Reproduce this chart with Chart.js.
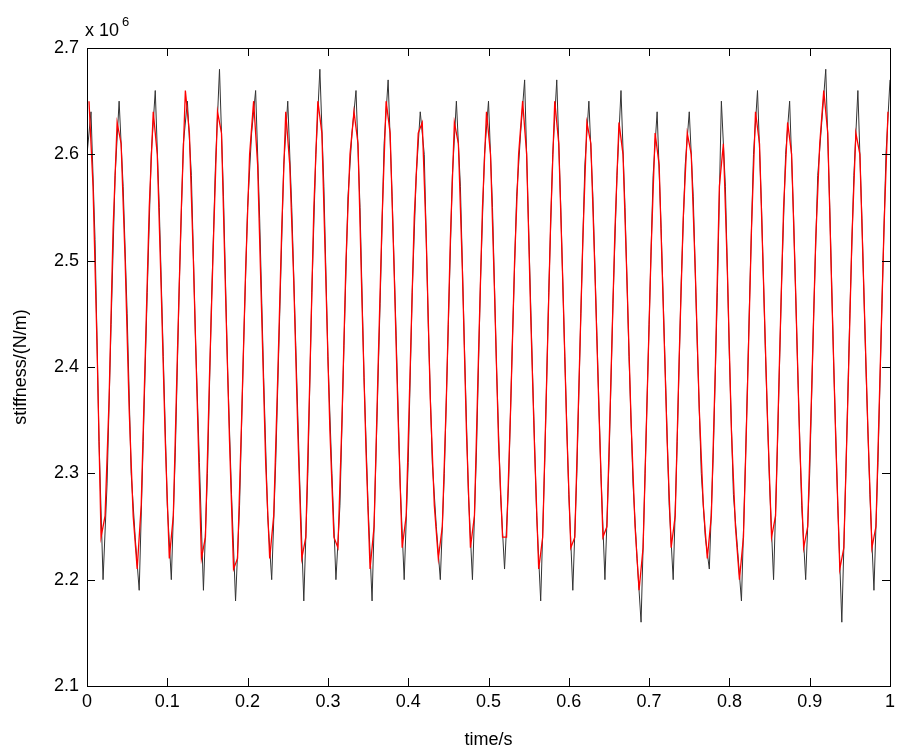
<!DOCTYPE html>
<html>
<head>
<meta charset="utf-8">
<script src="https://cdn.jsdelivr.net/npm/chart.js@4"></script>
<style>
  body { margin: 0; background: #fff; }
  #wrap { width: 905px; height: 755px; }
</style>
</head>
<body>
<div id="wrap"><canvas id="c"></canvas></div>
<script>
// stiffness in units of 1e6 N/m, sampled every 0.005 s (black) and offset by 0.0025 s (red)
const sampleStep = 0.005;
const blackValues = [2.60,2.64,2.52,2.33,2.20,2.29,2.44,2.58,2.65,2.57,2.45,2.30,2.24,2.19,2.33,2.47,2.60,2.66,2.55,2.41,
2.27,2.20,2.32,2.48,2.61,2.65,2.58,2.43,2.31,2.19,2.30,2.46,2.59,2.68,2.56,2.40,2.28,2.18,2.27,2.42,
2.55,2.62,2.66,2.54,2.39,2.26,2.20,2.31,2.45,2.59,2.65,2.55,2.42,2.29,2.18,2.30,2.47,2.60,2.68,2.57,
2.41,2.30,2.20,2.27,2.42,2.56,2.62,2.66,2.55,2.39,2.27,2.18,2.32,2.46,2.61,2.67,2.56,2.43,2.29,2.20,
2.31,2.47,2.58,2.64,2.60,2.44,2.31,2.25,2.20,2.30,2.44,2.58,2.65,2.57,2.42,2.28,2.20,2.32,2.48,2.60,
2.65,2.55,2.40,2.28,2.21,2.29,2.43,2.56,2.62,2.67,2.53,2.39,2.26,2.18,2.31,2.47,2.60,2.67,2.55,2.41,
2.28,2.19,2.30,2.45,2.59,2.65,2.56,2.43,2.30,2.20,2.31,2.46,2.58,2.66,2.55,2.41,2.29,2.22,2.16,2.30,
2.44,2.58,2.64,2.53,2.40,2.27,2.20,2.33,2.48,2.59,2.64,2.56,2.42,2.30,2.24,2.21,2.32,2.47,2.65,2.57,
2.41,2.28,2.23,2.18,2.31,2.46,2.60,2.66,2.55,2.41,2.29,2.20,2.33,2.48,2.60,2.65,2.54,2.40,2.27,2.20,
2.30,2.45,2.58,2.63,2.68,2.55,2.40,2.27,2.16,2.30,2.45,2.58,2.66,2.54,2.40,2.28,2.19,2.31,2.46,2.60,2.67];
const redValues = [2.65,2.57,2.42,2.24,2.26,2.37,2.53,2.63,2.61,2.50,2.36,2.26,2.21,2.27,2.41,2.55,2.64,2.60,2.47,2.33,
2.22,2.26,2.41,2.55,2.66,2.62,2.50,2.36,2.22,2.24,2.39,2.52,2.64,2.62,2.47,2.33,2.21,2.22,2.35,2.49,
2.60,2.65,2.59,2.45,2.31,2.22,2.26,2.39,2.53,2.64,2.59,2.48,2.34,2.22,2.24,2.39,2.55,2.65,2.62,2.48,
2.34,2.24,2.23,2.35,2.50,2.60,2.64,2.61,2.46,2.32,2.21,2.25,2.40,2.54,2.65,2.62,2.49,2.35,2.23,2.26,
2.40,2.54,2.62,2.63,2.52,2.37,2.27,2.22,2.25,2.37,2.52,2.63,2.61,2.49,2.34,2.23,2.26,2.41,2.55,2.64,
2.60,2.47,2.33,2.24,2.24,2.36,2.50,2.60,2.65,2.60,2.45,2.32,2.21,2.24,2.39,2.54,2.65,2.61,2.48,2.34,
2.23,2.24,2.38,2.52,2.63,2.61,2.49,2.36,2.24,2.25,2.39,2.53,2.63,2.60,2.48,2.35,2.25,2.19,2.23,2.37,
2.51,2.62,2.59,2.46,2.33,2.23,2.26,2.41,2.54,2.62,2.60,2.49,2.36,2.27,2.22,2.26,2.40,2.57,2.61,2.49,
2.34,2.25,2.20,2.24,2.38,2.53,2.64,2.61,2.48,2.35,2.24,2.26,2.41,2.55,2.63,2.60,2.47,2.33,2.23,2.25,
2.38,2.52,2.61,2.66,2.62,2.47,2.33,2.21,2.23,2.37,2.52,2.62,2.60,2.47,2.34,2.23,2.25,2.39,2.53,2.64];
const xTicks = [0,0.1,0.2,0.3,0.4,0.5,0.6,0.7,0.8,0.9,1];
const yTicks = [2.1,2.2,2.3,2.4,2.5,2.6,2.7];

const blackPts = blackValues.map((v, i) => ({x: i * sampleStep, y: v}));
const redPts = redValues.map((v, i) => ({x: i * sampleStep + sampleStep / 2, y: v}));

const font = {family: 'Liberation Sans, Arial', size: 18};

const boxPlugin = {
  id: 'box',
  afterDraw(chart) {
    const {ctx, chartArea: a, scales: {x, y}} = chart;
    ctx.save();
    ctx.strokeStyle = '#000';
    ctx.lineWidth = 1;
    ctx.strokeRect(a.left + 0.5, a.top + 0.5, a.right - a.left, a.bottom - a.top);
    ctx.beginPath();
    xTicks.forEach(t => {
      const px = Math.round(x.getPixelForValue(t)) + 0.5;
      ctx.moveTo(px, a.bottom); ctx.lineTo(px, a.bottom - 8);
      ctx.moveTo(px, a.top); ctx.lineTo(px, a.top + 8);
    });
    yTicks.forEach(t => {
      const py = Math.round(y.getPixelForValue(t)) + 0.5;
      ctx.moveTo(a.left, py); ctx.lineTo(a.left + 8, py);
      ctx.moveTo(a.right, py); ctx.lineTo(a.right - 8, py);
    });
    ctx.stroke();
    ctx.fillStyle = '#000';
    ctx.font = '18px Liberation Sans, Arial';
    ctx.textBaseline = 'alphabetic';
    ctx.fillText('x 10', a.left - 2, a.top - 12);
    ctx.font = '13px Liberation Sans, Arial';
    ctx.fillText('6', a.left + 35, a.top - 22);
    ctx.restore();
  }
};

new Chart(document.getElementById('c'), {
  type: 'line',
  data: {
    datasets: [
      {data: blackPts, borderColor: '#333', borderWidth: 1, pointRadius: 0, tension: 0, order: 2},
      {data: redPts, borderColor: '#ff0000', borderWidth: 1.3, pointRadius: 0, tension: 0, order: 1}
    ]
  },
  options: {
    responsive: true,
    maintainAspectRatio: false,
    animation: false,
    layout: {padding: {top: 48, right: 15, left: 6, bottom: 0}},
    plugins: {legend: {display: false}, tooltip: {enabled: false}},
    scales: {
      x: {
        type: 'linear', min: 0, max: 1,
        afterBuildTicks: s => { s.ticks = xTicks.map(v => ({value: v})); },
        afterFit: s => { s.height = 69; },
        grid: {display: false, drawTicks: false},
        border: {display: false},
        ticks: {color: '#000', font: font, padding: 5, maxRotation: 0,
                callback: v => String(v)},
        title: {display: true, text: 'time/s', color: '#000', font: font, padding: {top: 0}}
      },
      y: {
        min: 2.1, max: 2.7,
        afterBuildTicks: s => { s.ticks = yTicks.map(v => ({value: v})); },
        afterFit: s => { s.width = 81; },
        grid: {display: false, drawTicks: false},
        border: {display: false},
        ticks: {color: '#000', font: font, padding: 8, callback: v => v.toFixed(1)},
        title: {display: true, text: 'stiffness/(N/m)', color: '#000', font: font, padding: {bottom: 0}}
      }
    }
  },
  plugins: [boxPlugin]
});
</script>
</body>
</html>
